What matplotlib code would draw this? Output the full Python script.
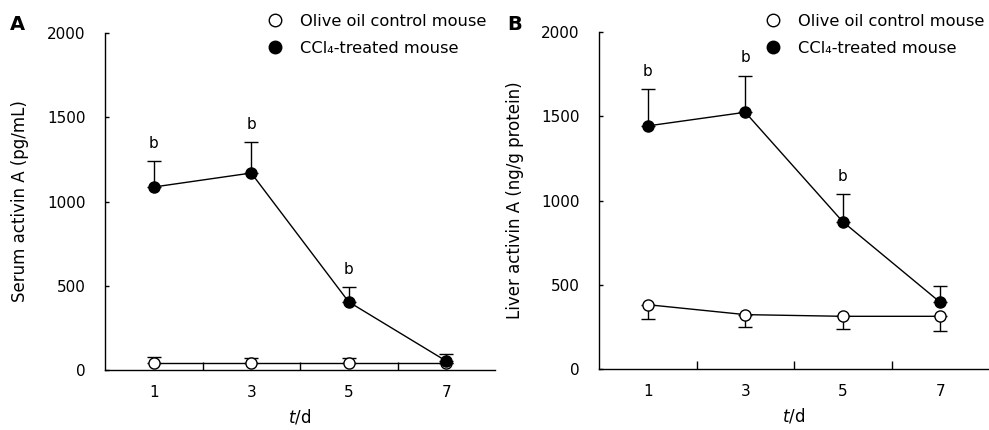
import matplotlib
matplotlib.use("Agg")
import matplotlib.pyplot as plt
from matplotlib.lines import Line2D
import numpy as np

plt.rcParams['font.family'] = 'DejaVu Sans'
plt.rcParams['mathtext.fontset'] = 'dejavusans'

# ---------------------------------------------------------------------------
# Data
# ---------------------------------------------------------------------------
days = ["1", "3", "5", "7"]

# Panel A: serum activin A (pg/mL)
serum_ctrl = [40, 40, 40, 40]
serum_ctrl_err = [38, 30, 30, 0]          # upward bars only
serum_ccl4 = [1086, 1169, 404, 53]
serum_ccl4_err = [156, 184, 89, 42]       # upward bars only
serum_sig = [True, True, True, False]

# Panel B: liver activin A (ng/g protein)
liver_ctrl = [382, 323, 313, 313]
liver_ctrl_err = [87, 75, 78, 89]         # downward bars only
liver_ccl4 = [1444, 1525, 875, 396]
liver_ccl4_err = [218, 218, 163, 99]      # upward bars only
liver_sig = [True, True, True, False]

LEG_CTRL = "Olive oil control mouse"
LEG_CCL4 = "CCl\u2084-treated mouse"

FS = 11        # tick labels, "b"
FS_LAB = 12    # axis labels
FS_LEG = 11.7  # legend

fig = plt.figure(figsize=(9.89, 4.30), dpi=100)
axA = fig.add_axes([105 / 989, 60 / 430, 390 / 989, 337 / 430])
axB = fig.add_axes([599 / 989, 61 / 430, 390 / 989, 336.7 / 430])


def draw(ax, ctrl, ctrl_err, ctrl_down, ccl4, ccl4_err, sig, ylabel, ylab_x):
    x = np.arange(len(days))
    zeros = np.zeros(len(days))
    cerr = [ctrl_err, zeros] if ctrl_down else [zeros, ctrl_err]
    ax.errorbar(x, ctrl, yerr=cerr, fmt='o-', color='black', mfc='white',
                mec='black', ms=8, lw=1, elinewidth=1, capsize=5,
                capthick=1, zorder=3)
    ax.errorbar(x, ccl4, yerr=[zeros, ccl4_err], fmt='o-', color='black',
                mfc='black', mec='black', ms=8, lw=1, elinewidth=1,
                capsize=5, capthick=1, zorder=4)
    for xi, v, e, s in zip(x, ccl4, ccl4_err, sig):
        if s:
            ax.text(xi, v + e + 60, "b", ha='center', va='bottom', fontsize=FS)
    ax.set_xlim(-0.5, 3.5)
    ax.set_ylim(0, 2000)
    ax.set_yticks([0, 500, 1000, 1500, 2000])
    ax.set_xticks(x)
    ax.set_xticklabels(days)
    ax.set_xticks([0.5, 1.5, 2.5], minor=True)
    ax.tick_params(axis='x', which='major', length=0, pad=11, labelsize=FS)
    ax.tick_params(axis='x', which='minor', direction='in', length=6, width=1)
    ax.tick_params(axis='y', direction='in', length=3, width=1, pad=14,
                   labelsize=FS)
    for side in ('top', 'right'):
        ax.spines[side].set_visible(False)
    for side in ('left', 'bottom'):
        ax.spines[side].set_linewidth(1)
    ax.set_xlabel("$t$/d", fontsize=FS_LAB, labelpad=5)
    ax.set_ylabel(ylabel, fontsize=FS_LAB, va='center')
    ax.yaxis.set_label_coords(ylab_x, 0.5)
    handles = [
        Line2D([], [], marker='o', ls='none', mfc='white', mec='black', ms=9),
        Line2D([], [], marker='o', ls='none', mfc='black', mec='black', ms=9),
    ]
    return handles


hA = draw(axA, serum_ctrl, serum_ctrl_err, False, serum_ccl4, serum_ccl4_err,
          serum_sig, "Serum activin A (pg/mL)", (20 - 105) / 390)
hB = draw(axB, liver_ctrl, liver_ctrl_err, True, liver_ccl4, liver_ccl4_err,
          liver_sig, "Liver activin A (ng/g protein)", (515 - 599) / 390)

for ax, h, xl in ((axA, hA, 267), (axB, hB, 765)):
    ax.legend(h, [LEG_CTRL, LEG_CCL4], loc='upper left',
              bbox_to_anchor=(xl / 989, 1 - 14 / 430),
              bbox_transform=fig.transFigure, frameon=False, fontsize=FS_LEG,
              handlelength=1, handletextpad=1.0, labelspacing=0.72,
              borderpad=0, borderaxespad=0)

fig.text(17 / 989, 1 - 25 / 430, "A", fontsize=14, fontweight='bold',
         ha='center', va='center')
fig.text(515 / 989, 1 - 25 / 430, "B", fontsize=14, fontweight='bold',
         ha='center', va='center')

fig.savefig("out.png", dpi=100)
